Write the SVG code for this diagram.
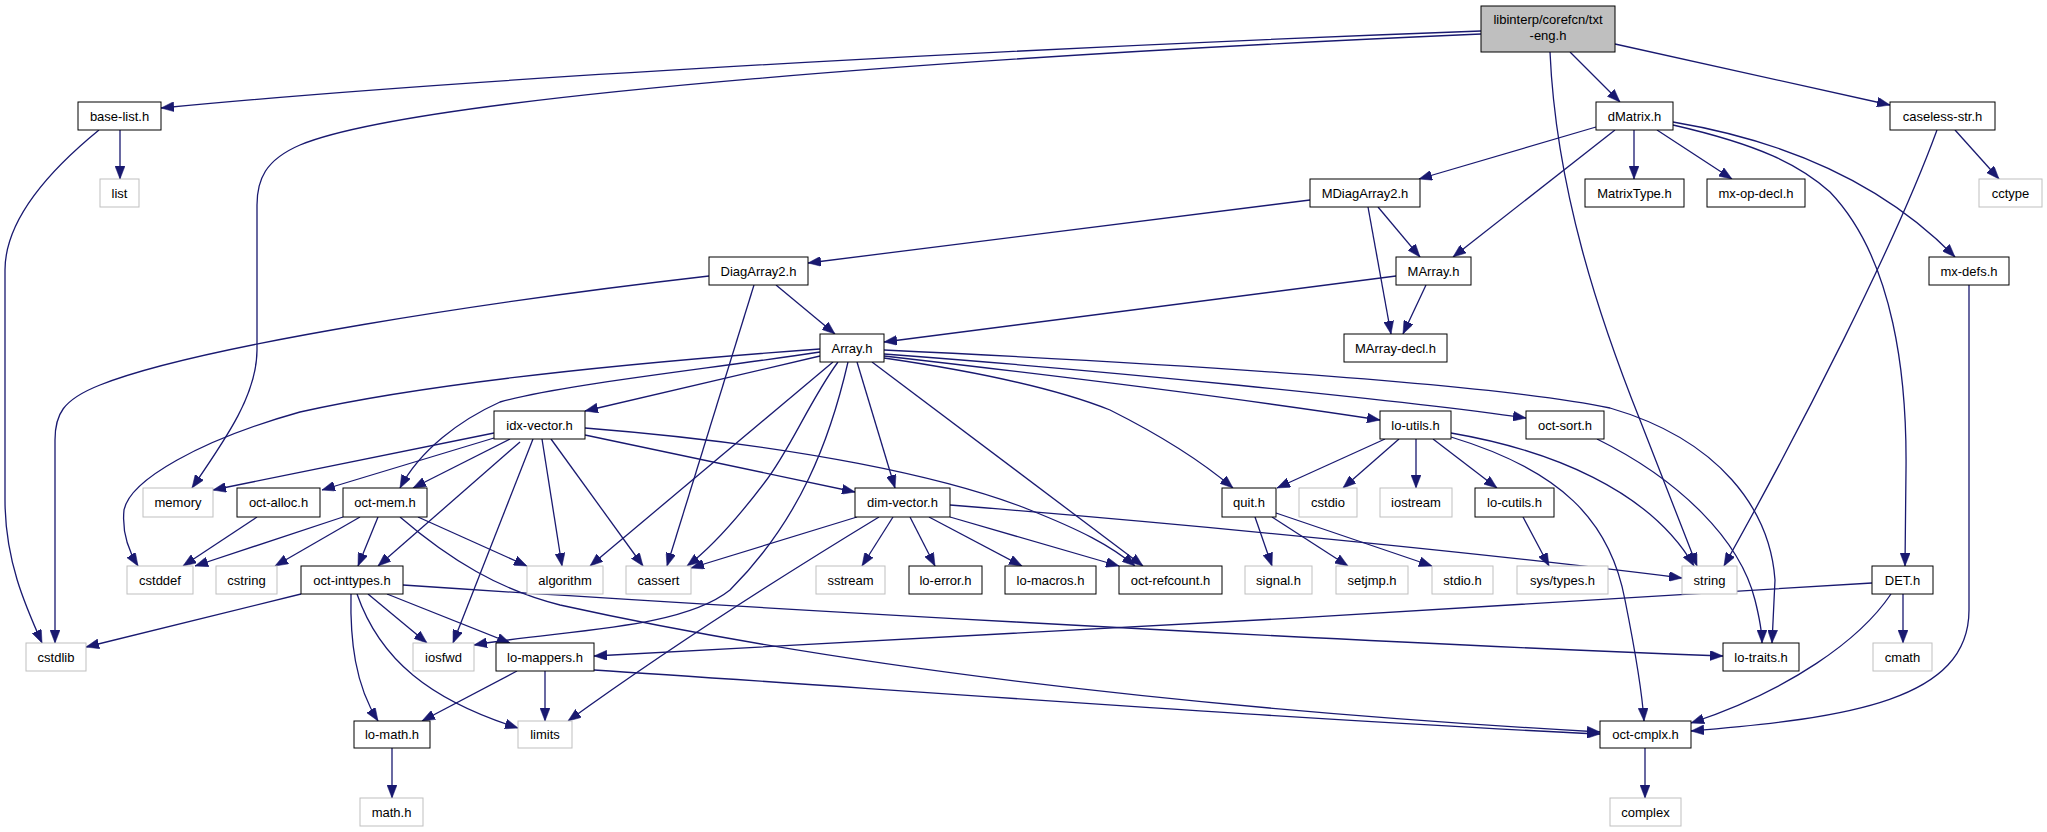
<svg xmlns="http://www.w3.org/2000/svg" width="2047" height="832" viewBox="0 0 2047 832">
<style>
.n rect{fill:#fff;stroke:#000;stroke-width:1}
.s rect{fill:#fff;stroke:#bfbfbf;stroke-width:1}
.r rect{fill:#bfbfbf;stroke:#000;stroke-width:1}
text{font-family:"Liberation Sans",Arial,Helvetica,sans-serif;font-size:13px;fill:#000;text-anchor:middle}
#edges path{fill:none;stroke:#191970;stroke-width:1.3;marker-end:url(#ah)}
</style>
<defs>
<marker id="ah" viewBox="0 0 13 10" refX="13" refY="5" markerWidth="13" markerHeight="10" markerUnits="userSpaceOnUse" orient="auto">
<path d="M0,0 L13,5 L0,10 Z" fill="#191970" stroke="#191970" stroke-width="0.5"/>
</marker>
</defs>
<rect width="2047" height="832" fill="#fff"/>
<g id="edges">
<path d="M1481,31 C1100,45 500,75 161,108"/>
<path d="M1481,34 C1000,55 420,95 300,145 C265,160 257,180 257,205 L257,350 C257,395 225,440 192,488"/>
<path d="M1550,52 C1556,190 1600,320 1640,420 L1697,566"/>
<path d="M1570,52 L1620,102"/>
<path d="M1615,44 L1890,105"/>
<path d="M120,130 L120,179"/>
<path d="M99,130 C50,170 5,220 5,270 L5,500 C5,560 25,605 42,643"/>
<path d="M1596,127 L1419,179"/>
<path d="M1615,130 L1453,257"/>
<path d="M1634,130 L1634,179"/>
<path d="M1657,130 L1732,179"/>
<path d="M1673,125 C1760,145 1800,165 1830,192 C1895,260 1907,380 1906,470 L1905,566"/>
<path d="M1673,122 C1780,140 1880,180 1955,257"/>
<path d="M1955,130 L1999,179"/>
<path d="M1937,130 C1895,245 1800,430 1724,566"/>
<path d="M1310,200 L808,263"/>
<path d="M1378,207 L1420,257"/>
<path d="M1368,207 L1391,334"/>
<path d="M709,276 C500,300 200,345 100,385 C62,400 55,415 55,440 L55,643"/>
<path d="M754,285 L667,566"/>
<path d="M776,285 L835,334"/>
<path d="M1396,276 L884,342"/>
<path d="M1426,285 L1403,334"/>
<path d="M1969,285 L1969,610 C1969,700 1850,718 1691,731"/>
<path d="M820,349 C600,365 420,385 300,412 C200,440 130,480 124,510 C122,530 128,550 138,566"/>
<path d="M833,362 L590,566"/>
<path d="M848,362 C830,440 800,520 730,590 C680,630 560,630 474,645"/>
<path d="M820,356 L585,411"/>
<path d="M820,352 C700,370 560,385 500,402 C460,420 420,450 400,488"/>
<path d="M838,362 C810,400 790,450 765,482 C740,515 715,545 687,566"/>
<path d="M857,362 L895,488"/>
<path d="M872,362 L1143,566"/>
<path d="M884,358 C980,372 1060,390 1110,410 C1160,435 1200,460 1233,488"/>
<path d="M884,356 C1050,375 1250,400 1380,420"/>
<path d="M884,354 C1100,370 1400,400 1526,418"/>
<path d="M884,350 C1200,365 1500,385 1610,408 C1720,440 1770,510 1775,580 L1772,643"/>
<path d="M494,433 L213,490"/>
<path d="M494,438 L322,490"/>
<path d="M510,439 L413,488"/>
<path d="M520,442 L378,566"/>
<path d="M533,439 L453,643"/>
<path d="M542,439 L562,566"/>
<path d="M551,439 L643,566"/>
<path d="M585,435 L855,492"/>
<path d="M585,428 C800,445 950,478 1030,510 C1080,530 1110,545 1135,566"/>
<path d="M1385,439 L1277,488"/>
<path d="M1399,439 L1343,488"/>
<path d="M1416,439 L1416,488"/>
<path d="M1433,439 L1497,488"/>
<path d="M1451,433 C1550,450 1650,490 1694,566"/>
<path d="M1451,437 C1560,470 1610,520 1625,600 C1635,650 1642,690 1644,721"/>
<path d="M1597,439 C1680,480 1740,540 1755,600 C1760,620 1762,630 1762,643"/>
<path d="M257,517 L183,566"/>
<path d="M343,517 L195,566"/>
<path d="M360,517 L275,566"/>
<path d="M378,517 L358,566"/>
<path d="M418,517 L527,566"/>
<path d="M400,517 C450,560 500,590 560,605 C900,680 1300,715 1600,732"/>
<path d="M857,517 L691,568"/>
<path d="M879,517 C800,565 680,640 568,721"/>
<path d="M893,517 L862,566"/>
<path d="M910,517 L935,566"/>
<path d="M929,517 L1022,566"/>
<path d="M950,517 L1119,566"/>
<path d="M950,505 C1200,525 1500,555 1682,578"/>
<path d="M1255,517 L1272,566"/>
<path d="M1272,517 L1348,566"/>
<path d="M1276,513 L1432,566"/>
<path d="M1523,517 L1549,566"/>
<path d="M301,594 L86,647"/>
<path d="M368,594 L427,643"/>
<path d="M387,594 L510,643"/>
<path d="M351,594 C350,640 355,685 378,721"/>
<path d="M357,594 C380,660 430,700 518,728"/>
<path d="M403,585 C700,605 1300,640 1723,656"/>
<path d="M1872,583 C1500,608 900,640 594,656"/>
<path d="M1891,594 C1860,640 1790,690 1691,723"/>
<path d="M1903,594 L1903,643"/>
<path d="M517,671 L422,721"/>
<path d="M545,671 L545,721"/>
<path d="M594,670 C900,690 1300,720 1600,734"/>
<path d="M392,748 L392,798"/>
<path d="M1645,748 L1645,798"/>
</g>
<g id="n-root" class="r"><rect x="1481" y="6" width="134" height="46"/><text x="1548" y="24">libinterp/corefcn/txt</text><text x="1548" y="40">-eng.h</text></g>
<g id="n-base-list" class="n"><rect x="78" y="102" width="83" height="28"/><text x="119.5" y="120.5">base-list.h</text></g>
<g id="n-list" class="s"><rect x="100" y="179" width="39" height="28"/><text x="119.5" y="197.5">list</text></g>
<g id="n-dMatrix" class="n"><rect x="1596" y="102" width="77" height="28"/><text x="1634.5" y="120.5">dMatrix.h</text></g>
<g id="n-caseless" class="n"><rect x="1890" y="102" width="105" height="28"/><text x="1942.5" y="120.5">caseless-str.h</text></g>
<g id="n-MDiagArray2" class="n"><rect x="1310" y="179" width="110" height="28"/><text x="1365" y="197.5">MDiagArray2.h</text></g>
<g id="n-MatrixType" class="n"><rect x="1585" y="179" width="99" height="28"/><text x="1634.5" y="197.5">MatrixType.h</text></g>
<g id="n-mx-op-decl" class="n"><rect x="1707" y="179" width="98" height="28"/><text x="1756" y="197.5">mx-op-decl.h</text></g>
<g id="n-cctype" class="s"><rect x="1979" y="179" width="63" height="28"/><text x="2010.5" y="197.5">cctype</text></g>
<g id="n-DiagArray2" class="n"><rect x="709" y="257" width="99" height="28"/><text x="758.5" y="275.5">DiagArray2.h</text></g>
<g id="n-MArray" class="n"><rect x="1396" y="257" width="75" height="28"/><text x="1433.5" y="275.5">MArray.h</text></g>
<g id="n-mx-defs" class="n"><rect x="1929" y="257" width="80" height="28"/><text x="1969" y="275.5">mx-defs.h</text></g>
<g id="n-Array" class="n"><rect x="820" y="334" width="64" height="28"/><text x="852" y="352.5">Array.h</text></g>
<g id="n-MArray-decl" class="n"><rect x="1344" y="334" width="103" height="28"/><text x="1395.5" y="352.5">MArray-decl.h</text></g>
<g id="n-idx-vector" class="n"><rect x="494" y="411" width="91" height="28"/><text x="539.5" y="429.5">idx-vector.h</text></g>
<g id="n-lo-utils" class="n"><rect x="1380" y="411" width="71" height="28"/><text x="1415.5" y="429.5">lo-utils.h</text></g>
<g id="n-oct-sort" class="n"><rect x="1526" y="411" width="78" height="28"/><text x="1565" y="429.5">oct-sort.h</text></g>
<g id="n-memory" class="s"><rect x="143" y="488" width="70" height="29"/><text x="178" y="507">memory</text></g>
<g id="n-oct-alloc" class="n"><rect x="237" y="488" width="83" height="29"/><text x="278.5" y="507">oct-alloc.h</text></g>
<g id="n-oct-mem" class="n"><rect x="343" y="488" width="84" height="29"/><text x="385" y="507">oct-mem.h</text></g>
<g id="n-dim-vector" class="n"><rect x="855" y="488" width="95" height="29"/><text x="902.5" y="507">dim-vector.h</text></g>
<g id="n-quit" class="n"><rect x="1222" y="488" width="54" height="29"/><text x="1249" y="507">quit.h</text></g>
<g id="n-cstdio" class="s"><rect x="1299" y="488" width="58" height="29"/><text x="1328" y="507">cstdio</text></g>
<g id="n-iostream" class="s"><rect x="1380" y="488" width="72" height="29"/><text x="1416" y="507">iostream</text></g>
<g id="n-lo-cutils" class="n"><rect x="1475" y="488" width="79" height="29"/><text x="1514.5" y="507">lo-cutils.h</text></g>
<g id="n-cstddef" class="s"><rect x="127" y="566" width="66" height="28"/><text x="160" y="584.5">cstddef</text></g>
<g id="n-cstring" class="s"><rect x="216" y="566" width="61" height="28"/><text x="246.5" y="584.5">cstring</text></g>
<g id="n-oct-inttypes" class="n"><rect x="301" y="566" width="102" height="28"/><text x="352" y="584.5">oct-inttypes.h</text></g>
<g id="n-algorithm" class="s"><rect x="527" y="566" width="76" height="28"/><text x="565" y="584.5">algorithm</text></g>
<g id="n-cassert" class="s"><rect x="626" y="566" width="65" height="28"/><text x="658.5" y="584.5">cassert</text></g>
<g id="n-sstream" class="s"><rect x="816" y="566" width="69" height="28"/><text x="850.5" y="584.5">sstream</text></g>
<g id="n-lo-error" class="n"><rect x="909" y="566" width="73" height="28"/><text x="945.5" y="584.5">lo-error.h</text></g>
<g id="n-lo-macros" class="n"><rect x="1005" y="566" width="91" height="28"/><text x="1050.5" y="584.5">lo-macros.h</text></g>
<g id="n-oct-refcount" class="n"><rect x="1119" y="566" width="103" height="28"/><text x="1170.5" y="584.5">oct-refcount.h</text></g>
<g id="n-signal" class="s"><rect x="1245" y="566" width="67" height="28"/><text x="1278.5" y="584.5">signal.h</text></g>
<g id="n-setjmp" class="s"><rect x="1336" y="566" width="72" height="28"/><text x="1372" y="584.5">setjmp.h</text></g>
<g id="n-stdio" class="s"><rect x="1432" y="566" width="61" height="28"/><text x="1462.5" y="584.5">stdio.h</text></g>
<g id="n-sys-types" class="s"><rect x="1517" y="566" width="91" height="28"/><text x="1562.5" y="584.5">sys/types.h</text></g>
<g id="n-string" class="s"><rect x="1682" y="566" width="55" height="28"/><text x="1709.5" y="584.5">string</text></g>
<g id="n-DET" class="n"><rect x="1872" y="566" width="61" height="28"/><text x="1902.5" y="584.5">DET.h</text></g>
<g id="n-cstdlib" class="s"><rect x="26" y="643" width="60" height="28"/><text x="56" y="661.5">cstdlib</text></g>
<g id="n-iosfwd" class="s"><rect x="413" y="643" width="61" height="28"/><text x="443.5" y="661.5">iosfwd</text></g>
<g id="n-lo-mappers" class="n"><rect x="496" y="643" width="98" height="28"/><text x="545" y="661.5">lo-mappers.h</text></g>
<g id="n-lo-traits" class="n"><rect x="1723" y="643" width="76" height="28"/><text x="1761" y="661.5">lo-traits.h</text></g>
<g id="n-cmath" class="s"><rect x="1873" y="643" width="59" height="28"/><text x="1902.5" y="661.5">cmath</text></g>
<g id="n-lo-math" class="n"><rect x="354" y="721" width="76" height="27"/><text x="392" y="739">lo-math.h</text></g>
<g id="n-limits" class="s"><rect x="518" y="721" width="54" height="27"/><text x="545" y="739">limits</text></g>
<g id="n-oct-cmplx" class="n"><rect x="1600" y="721" width="91" height="27"/><text x="1645.5" y="739">oct-cmplx.h</text></g>
<g id="n-math" class="s"><rect x="360" y="798" width="63" height="28"/><text x="391.5" y="816.5">math.h</text></g>
<g id="n-complex" class="s"><rect x="1610" y="798" width="71" height="28"/><text x="1645.5" y="816.5">complex</text></g>
</svg>
